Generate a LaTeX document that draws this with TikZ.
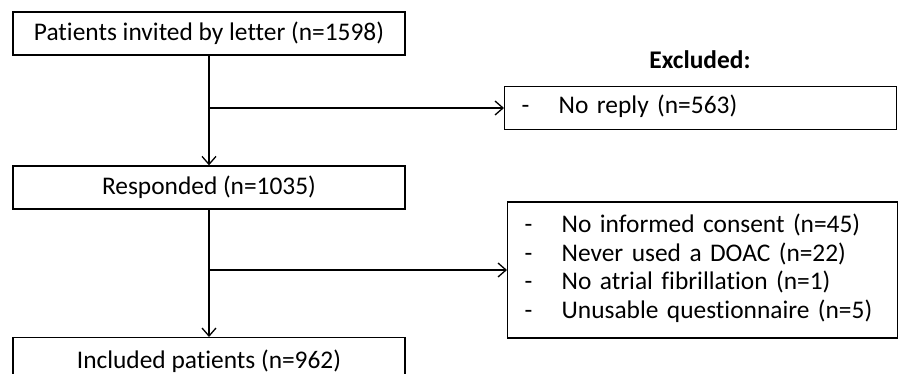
\documentclass[tikz,border=0pt]{standalone}
\usepackage{fontspec}
\setmainfont{Carlito}[Ligatures=NoCommon]
\usetikzlibrary{arrows.meta}

\begin{document}
\begin{tikzpicture}[x=1pt,y=-1pt,
        box/.style={draw,line width=1.3pt,minimum width=392pt,minimum height=43pt,inner sep=0pt,font=\fontsize{25.4}{28.5}\selectfont},
        listbox/.style={box,anchor=west,inner xsep=17pt,text width=358pt,align=left},
        flow/.style={line width=1.3pt,-{Straight Barb[length=8pt,width=14pt,line width=1.3pt]}}]
        \useasboundingbox (0,0) rectangle (899,374);

        % Main flow
        \node[box] (invited) at (209,33.5) {Patients invited by letter (n=1598)};
        \node[box] (responded) at (209,187.5) {Responded (n=1035)};
        \node[box,anchor=north,minimum height=48pt] (included) at (209,337) {Included patients (n=962)};

        % Exclusions
        \node[font=\fontsize{25.4}{28.5}\selectfont\bfseries] (excluded) at (700,60) {Excluded:};
        \node[listbox] (noreply) at (504,108) {\begin{tabular}{@{}p{37pt}@{}l@{}}-&No reply (n=563)\end{tabular}};
        \node[listbox,text width=356pt,minimum width=390pt,minimum height=136pt] (reasons) at (507,270) {\begin{tabular}{@{}p{37pt}@{}l@{}}
            -&No informed consent (n=45)\\
            -&Never used a DOAC (n=22)\\
            -&No atrial fibrillation (n=1)\\
            -&Unusable questionnaire (n=5)
        \end{tabular}};

        \draw[flow] (invited) -- (responded);
        \draw[flow] (responded) -- (included);
        \draw[flow] (invited.south |- noreply.west) -- (noreply.west);
        \draw[flow] (responded.south |- reasons.west) -- (reasons.west);
\end{tikzpicture}
\end{document}
